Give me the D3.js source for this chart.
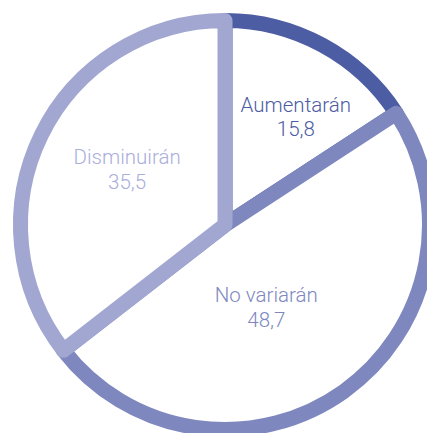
<!DOCTYPE html>
<html>
<head>
<meta charset="utf-8">
<script src="https://cdn.jsdelivr.net/npm/d3@7/dist/d3.min.js"></script>
<style>
  html, body { margin: 0; padding: 0; background: #fff; }
  svg { display: block; }
  .lbl { font-family: Roboto, "Liberation Sans", Arial, sans-serif; font-weight: 300; font-size: 20.5px; }
</style>
</head>
<body>
<svg id="chart" width="427" height="433"></svg>
<script>
// Survey answers and their shares (%)
const categories = ["Aumentarán", "No variarán", "Disminuirán"];
const values = [15.8, 48.7, 35.5];
const valueLabels = ["15,8", "48,7", "35,5"];

// Styling per slice
const strokeColors = ["#4c5da4", "#7e88bf", "#a1a7d1"];
const textColors = ["#4c5da4", "#7e88bf", "#a9aedb"];

// Label anchors in polar form: angle (degrees, clockwise from top) and radius
const labelAnchors = [[33, 130], [153, 91], [300, 113]];

const svg = d3.select("#chart");
const cx = 225, cy = 225, radius = 204.5;

const pie = d3.pie().sort(null).value(d => d.value);
const arc = d3.arc().innerRadius(0).outerRadius(radius);

const data = categories.map((c, i) => ({ name: c, value: values[i], label: valueLabels[i], i }));
const arcs = pie(data);

const g = svg.append("g").attr("transform", `translate(${cx},${cy})`);

g.selectAll("path.slice")
  .data(arcs)
  .join("path")
  .attr("class", "slice")
  .attr("d", arc)
  .attr("fill", "#fff")
  .attr("stroke", d => strokeColors[d.data.i])
  .attr("stroke-width", 15)
  .attr("stroke-linejoin", "round");

const labels = g.selectAll("text.lbl")
  .data(arcs)
  .join("text")
  .attr("class", "lbl")
  .attr("text-anchor", "middle")
  .attr("fill", d => textColors[d.data.i])
  .attr("transform", d => {
    const [deg, r] = labelAnchors[d.data.i];
    const a = deg * Math.PI / 180;
    return `translate(${r * Math.sin(a)},${-r * Math.cos(a)})`;
  });

labels.append("tspan").attr("x", 0).attr("dy", "-0.2em").text(d => d.data.name);
labels.append("tspan").attr("x", 0).attr("dy", "1.2em").text(d => d.data.label);
</script>
</body>
</html>
